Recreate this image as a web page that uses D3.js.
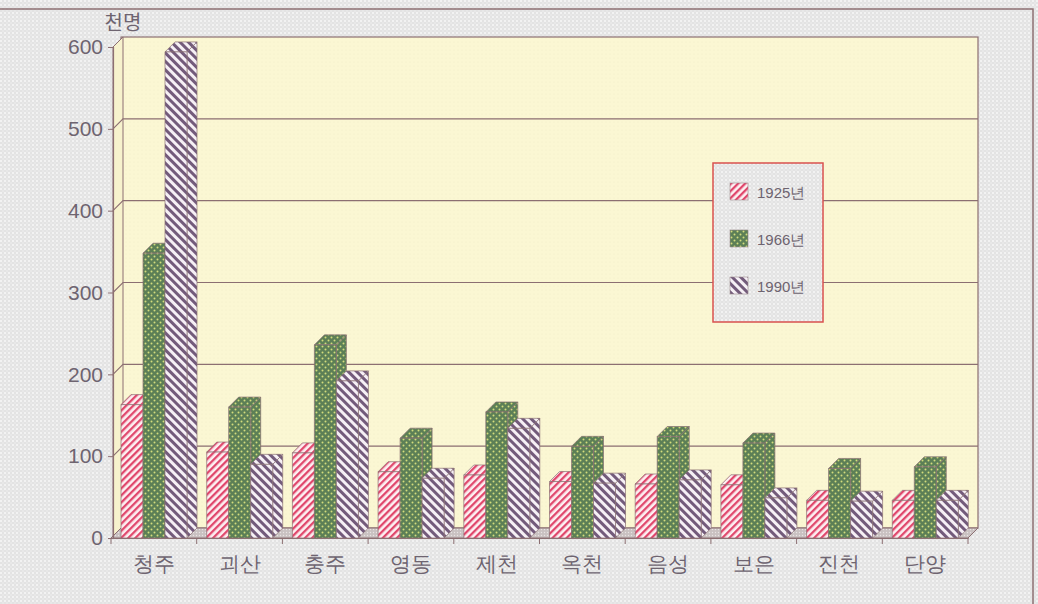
<!DOCTYPE html>
<html>
<head>
<meta charset="UTF-8">
<title>충북 도시 인구</title>
<script src="https://d3js.org/d3.v7.min.js"></script>
<style>
    body { margin: 0; background: #e7e7e7; }
    svg { display: block; font-family: "Noto Sans CJK KR", "Noto Sans", sans-serif; }
</style>
</head>
<body>
<div id="chart"></div>
<script>
// data (천명)
var categories = ["청주", "괴산", "충주", "영동", "제천", "옥천", "음성", "보은", "진천", "단양"];
var years = ["1925년", "1966년", "1990년"];
var pop1925 = [163, 105, 104, 81, 77, 69, 66, 65, 46, 46];
var pop1966 = [348, 160, 236, 122, 154, 112, 124, 116, 85, 87];
var pop1990 = [594, 90, 192, 73, 134, 67, 71, 49, 45, 46];
var yTicks = [0, 100, 200, 300, 400, 500, 600];

var series = [pop1925, pop1966, pop1990];

var W = 1038, H = 604;
var depth = 10;
var base = 538;
var lineCol = "#8c6f72";
var textCol = "#6e6470";

var svg = d3.select("#chart").append("svg")
    .attr("width", W)
    .attr("height", H);

var defs = svg.append("defs");

// halftone paper
var paper = defs.append("pattern").attr("id", "paper")
    .attr("width", 4).attr("height", 4).attr("patternUnits", "userSpaceOnUse");
paper.append("rect").attr("width", 4).attr("height", 4).attr("fill", "#e3e3e3");
paper.append("circle").attr("cx", 1).attr("cy", 1).attr("r", 1).attr("fill", "#f7f7f7");
paper.append("circle").attr("cx", 3).attr("cy", 3).attr("r", 0.7).attr("fill", "#f2f2f2");

var wallPat = defs.append("pattern").attr("id", "wall")
    .attr("width", 4).attr("height", 4).attr("patternUnits", "userSpaceOnUse");
wallPat.append("rect").attr("width", 4).attr("height", 4).attr("fill", "#fbf7d3");
wallPat.append("circle").attr("cx", 2).attr("cy", 2).attr("r", 0.6).attr("fill", "#f1edc8");

var floorPat = defs.append("pattern").attr("id", "floor")
    .attr("width", 3).attr("height", 3).attr("patternUnits", "userSpaceOnUse");
floorPat.append("rect").attr("width", 3).attr("height", 3).attr("fill", "#c9c1c1");
floorPat.append("circle").attr("cx", 1.5).attr("cy", 1.5).attr("r", 0.7).attr("fill", "#e8e3e3");

// 1925: pink "/" stripes
var p1 = defs.append("pattern").attr("id", "pat0")
    .attr("width", 5).attr("height", 5).attr("patternUnits", "userSpaceOnUse")
    .attr("patternTransform", "rotate(45)");
p1.append("rect").attr("width", 5).attr("height", 5).attr("fill", "#fdf0f2");
p1.append("rect").attr("width", 2.3).attr("height", 5).attr("fill", "#e0476c");

// 1966: green with yellow dots
var p2 = defs.append("pattern").attr("id", "pat1")
    .attr("width", 6).attr("height", 6).attr("patternUnits", "userSpaceOnUse");
p2.append("rect").attr("width", 6).attr("height", 6).attr("fill", "#5c7f56");
p2.append("circle").attr("cx", 1.5).attr("cy", 1.5).attr("r", 1).attr("fill", "#d3dc7c");
p2.append("circle").attr("cx", 4.5).attr("cy", 4.5).attr("r", 1).attr("fill", "#d3dc7c");

// 1990: purple "\" stripes
var p3 = defs.append("pattern").attr("id", "pat2")
    .attr("width", 6).attr("height", 6).attr("patternUnits", "userSpaceOnUse")
    .attr("patternTransform", "rotate(-45)");
p3.append("rect").attr("width", 6).attr("height", 6).attr("fill", "#f6f0f5");
p3.append("rect").attr("width", 3).attr("height", 6).attr("fill", "#735b7b");

// background + frame
svg.append("rect").attr("width", W).attr("height", H).attr("fill", "url(#paper)");
svg.append("rect")
    .attr("x", -6).attr("y", 9).attr("width", 1039).attr("height", 620)
    .attr("fill", "none").attr("stroke", lineCol).attr("stroke-width", 1.5);

// scales
var x = d3.scaleBand().domain(categories).range([111, 968]);
var sub = d3.scaleBand().domain(d3.range(years.length)).range([10, 76]);
var y = d3.scaleLinear().domain([0, 600]).range([base, 47]);

var xL = x.range()[0], xR = x.range()[1];
var yTop = y(600);

//--------------------
// walls and floor
//--------------------
svg.append("rect")
    .attr("x", xL + depth).attr("y", yTop - depth)
    .attr("width", xR - xL).attr("height", base - yTop)
    .attr("fill", "url(#wall)")
    .attr("stroke", lineCol).attr("stroke-width", 1.2);

svg.append("path")
    .attr("d", "M" + (xL + 2) + "," + base + "L" + (xL + 2) + "," + yTop +
        "L" + (xL + 2 + depth) + "," + (yTop - depth) + "L" + (xL + 2 + depth) + "," + (base - depth) + "Z")
    .attr("fill", "#f7f2cd")
    .attr("stroke", lineCol).attr("stroke-width", 1);

svg.append("path")
    .attr("d", "M" + xL + "," + base + "L" + (xL + depth) + "," + (base - depth) +
        "L" + (xR + depth) + "," + (base - depth) + "L" + xR + "," + base + "Z")
    .attr("fill", "url(#floor)")
    .attr("stroke", lineCol).attr("stroke-width", 1);

// gridlines: diagonal on the side wall, then across the back wall
svg.append("g").selectAll("path")
    .data(yTicks.slice(1, -1))
    .join("path")
    .attr("d", function (d) {
        return "M" + (xL + 2) + "," + y(d) + "L" + (xL + 2 + depth) + "," + (y(d) - depth) +
            "L" + (xR + depth) + "," + (y(d) - depth);
    })
    .attr("fill", "none")
    .attr("stroke", lineCol).attr("stroke-width", 1.1);

//--------------------
// bars as 3D boxes
//--------------------
var bars = [];
categories.forEach(function (c, i) {
    series.forEach(function (s, k) {
        bars.push({ cat: c, k: k, v: s[i] });
    });
});

var box = svg.append("g").selectAll("g")
    .data(bars)
    .join("g")
    .attr("stroke", "#8a7073")
    .attr("stroke-width", 0.7)
    .attr("stroke-linejoin", "round");

box.each(function (d) {
    var g = d3.select(this);
    var x0 = x(d.cat) + sub(d.k);
    var x1 = x0 + sub.bandwidth();
    var yf = y(d.v);
    var fill = "url(#pat" + d.k + ")";
    // right side
    g.append("path")
        .attr("d", "M" + x1 + "," + yf + "L" + (x1 + depth) + "," + (yf - depth) +
            "L" + (x1 + depth) + "," + (base - depth) + "L" + x1 + "," + base + "Z")
        .attr("fill", fill);
    // top
    g.append("path")
        .attr("d", "M" + x0 + "," + yf + "L" + (x0 + depth) + "," + (yf - depth) +
            "L" + (x1 + depth) + "," + (yf - depth) + "L" + x1 + "," + yf + "Z")
        .attr("fill", fill);
    // front
    g.append("rect")
        .attr("x", x0).attr("y", yf)
        .attr("width", sub.bandwidth()).attr("height", base - yf)
        .attr("fill", fill);
});

//--------------------
// axes
//--------------------
var yAxis = svg.append("g")
    .attr("transform", "translate(" + (xL + 2) + ",0)")
    .call(d3.axisLeft(y).tickValues(yTicks).tickSize(5).tickPadding(5));
yAxis.select(".domain").attr("stroke", lineCol).attr("stroke-width", 1.2);
yAxis.selectAll(".tick line").attr("stroke", lineCol);
yAxis.selectAll(".tick text")
    .attr("fill", textCol)
    .style("font-family", "Liberation Sans, Arial, sans-serif")
    .style("font-size", "21px");

var xAxis = svg.append("g")
    .attr("transform", "translate(0," + base + ")")
    .call(d3.axisBottom(x).tickSize(0).tickPadding(21));
xAxis.select(".domain").attr("stroke", lineCol).attr("stroke-width", 1.2);
xAxis.selectAll(".tick text")
    .attr("fill", textCol)
    .attr("dy", "0.55em")
    .style("font-size", "21px");

// band boundary ticks
svg.append("g").selectAll("line")
    .data(categories.concat(["end"]))
    .join("line")
    .attr("x1", function (d, i) { return xL + i * x.step(); })
    .attr("x2", function (d, i) { return xL + i * x.step(); })
    .attr("y1", base).attr("y2", base + 6)
    .attr("stroke", lineCol);

// unit label
svg.append("text")
    .attr("x", 123).attr("y", 30)
    .attr("text-anchor", "middle")
    .attr("fill", textCol)
    .style("font-size", "20px")
    .text("천명");

//--------------------
// legend
//--------------------
var legend = svg.append("g").attr("transform", "translate(713,163)");
legend.append("rect")
    .attr("width", 110).attr("height", 159)
    .attr("fill", "url(#paper)")
    .attr("stroke", "#d9524f").attr("stroke-width", 1.5);

var item = legend.selectAll(".item")
    .data(years)
    .join("g")
    .attr("class", "item")
    .attr("transform", function (d, i) { return "translate(17," + (20 + i * 47) + ")"; });

item.append("rect")
    .attr("width", 18).attr("height", 17)
    .attr("fill", function (d, i) { return "url(#pat" + i + ")"; })
    .attr("stroke", "#9c8a8c").attr("stroke-width", 0.6);

item.append("text")
    .attr("x", 27).attr("y", 15)
    .attr("fill", textCol)
    .style("font-family", "Liberation Sans, Arial, sans-serif")
    .style("font-size", "15px")
    .text(function (d) { return d; });
</script>
</body>
</html>
